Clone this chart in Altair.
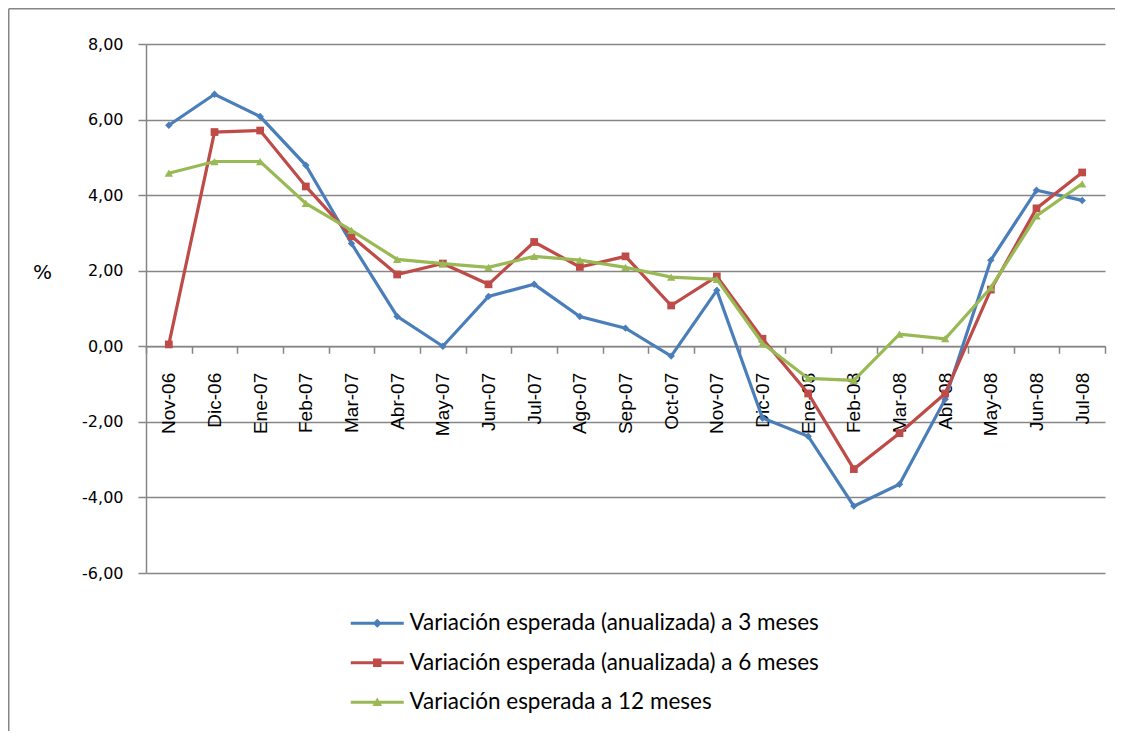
import altair as alt
import pandas as pd

categories = ["Nov-06", "Dic-06", "Ene-07", "Feb-07", "Mar-07", "Abr-07", "May-07",
              "Jun-07", "Jul-07", "Ago-07", "Sep-07", "Oct-07", "Nov-07", "Dic-07",
              "Ene-08", "Feb-08", "Mar-08", "Abr-08", "May-08", "Jun-08", "Jul-08"]

s3 = [5.85, 6.67, 6.08, 4.79, 2.72, 0.79, 0.00, 1.32, 1.64, 0.79, 0.48, -0.26,
      1.48, -1.90, -2.38, -4.23, -3.65, -1.40, 2.28, 4.13, 3.86]
s6 = [0.05, 5.67, 5.71, 4.23, 2.91, 1.90, 2.19, 1.64, 2.76, 2.10, 2.38, 1.08,
      1.85, 0.20, -1.25, -3.25, -2.30, -1.25, 1.50, 3.65, 4.60]
s12 = [4.58, 4.89, 4.89, 3.78, 3.07, 2.30, 2.19, 2.09, 2.38, 2.28, 2.09, 1.83,
       1.77, 0.08, -0.85, -0.90, 0.32, 0.20, 1.55, 3.45, 4.30]

series_names = ["Variación esperada (anualizada) a 3 meses",
                "Variación esperada (anualizada) a 6 meses",
                "Variación esperada a  12 meses"]
colors = ["#4A7EBB", "#BE4B48", "#98B954"]
shapes = ["diamond", "square", "triangle-up"]
shape_sizes = [55, 60, 70]

rows = []
for name, vals in zip(series_names, [s3, s6, s12]):
    for c, v in zip(categories, vals):
        rows.append({"mes": c, "valor": v, "serie": name})
df = pd.DataFrame(rows)

W, H = 959, 529
PL, PT = 138, 36
TOTAL_W, TOTAL_H = 1107, 723
y_zero_offset = -(H * 6 / 14)

GRAY = "#868686"

x_enc = alt.X("mes:N", sort=categories, title=None,
              scale=alt.Scale(paddingInner=0, paddingOuter=0),
              axis=alt.Axis(orient="bottom", offset=y_zero_offset, labelAngle=-90,
                            labelFont="Liberation Sans", labelFontSize=19,
                            labelColor="#000000", labelPadding=19,
                            tickBand="extent", tickSize=7, tickColor=GRAY,
                            tickWidth=1.5, domainColor=GRAY, domainWidth=1.5,
                            labelOverlap=False, grid=False, labelFlush=False))
y_enc = alt.Y("valor:Q", title="%",
              scale=alt.Scale(domain=[-6, 8], nice=False, zero=False),
              axis=alt.Axis(values=[-6, -4, -2, 0, 2, 4, 6, 8],
                            labelExpr="(datum.value < 0 ? '-' : '') + replace(format(abs(datum.value), '.2f'), '.', ',')",
                            labelFont="DejaVu Sans", labelFontSize=16, labelColor="#000000",
                            labelPadding=15, tickSize=8, tickColor=GRAY, tickWidth=1.5,
                            domainColor=GRAY, domainWidth=1.5,
                            grid=True, gridColor=GRAY, gridWidth=1.5,
                            titleAngle=0, titleX=-104, titleY=228, titleAlign="center",
                            titleBaseline="middle", titleFont="DejaVu Sans",
                            titleFontSize=20, titleFontWeight="normal", titleColor="#000000"))

layers = []
base = alt.Chart(df).mark_line(opacity=0).encode(x=x_enc, y=y_enc, detail="serie:N")
layers.append(base)

for name, col, shp, sz in zip(series_names, colors, shapes, shape_sizes):
    d = df[df["serie"] == name]
    ln = alt.Chart(d).mark_line(color=col, strokeWidth=3.2).encode(
        x=alt.X("mes:N", sort=categories), y="valor:Q")
    pt = alt.Chart(d).mark_point(color=col, fill=col, filled=True, shape=shp,
                                 size=sz, opacity=1).encode(
        x=alt.X("mes:N", sort=categories), y="valor:Q")
    layers += [ln, pt]

# legend symbol paths: line with marker in the middle (unit = 10px at size 400)
line_path = "M-2.65,-0.15H2.65V0.15H-2.65Z"
leg_paths = [
    line_path + " M-0.45,0L0,-0.45L0.45,0L0,0.45Z",
    line_path + " M-0.42,-0.42H0.42V0.42H-0.42Z",
    line_path + " M-0.48,0.38L0,-0.48L0.48,0.38Z",
]
leg = alt.Legend(orient="none", legendX=220, legendY=568,
                 direction="vertical", padding=0,
                 symbolSize=400, symbolStrokeWidth=0, symbolOpacity=1,
                 labelFont="Lato", labelFontSize=22.5,
                 labelColor="#000000", labelOffset=21,
                 rowPadding=16.5, labelLimit=600)
legend_layer = alt.Chart(df).transform_filter("false").mark_point(filled=True).encode(
    x=alt.X("mes:N", sort=categories),
    y="valor:Q",
    fill=alt.Fill("serie:N", title=None,
                  scale=alt.Scale(domain=series_names, range=colors), legend=leg),
    shape=alt.Shape("serie:N", title=None,
                    scale=alt.Scale(domain=series_names, range=leg_paths), legend=leg),
)
layers.append(legend_layer)

one = alt.Data(values=[{"k": 1}])
frame_v = alt.Chart(one).mark_rule(color=GRAY, strokeWidth=1.5).encode(
    x=alt.value(-PL + 0.75), y=alt.value(-PT + 0.75), y2=alt.value(TOTAL_H - PT))
frame_h = alt.Chart(one).mark_rule(color=GRAY, strokeWidth=1.5).encode(
    x=alt.value(-PL + 0.75), x2=alt.value(TOTAL_W - PL), y=alt.value(-PT + 0.75))
layers += [frame_v, frame_h]

chart = alt.layer(*layers).properties(
    width=W, height=H,
    padding={"left": PL, "top": PT, "right": TOTAL_W - PL - W, "bottom": TOTAL_H - PT - H},
    autosize=alt.AutoSizeParams(type="none"),
    background="white",
).configure_view(stroke=None)

chart.save("out.html", embed_options={"renderer": "svg", "actions": False})
